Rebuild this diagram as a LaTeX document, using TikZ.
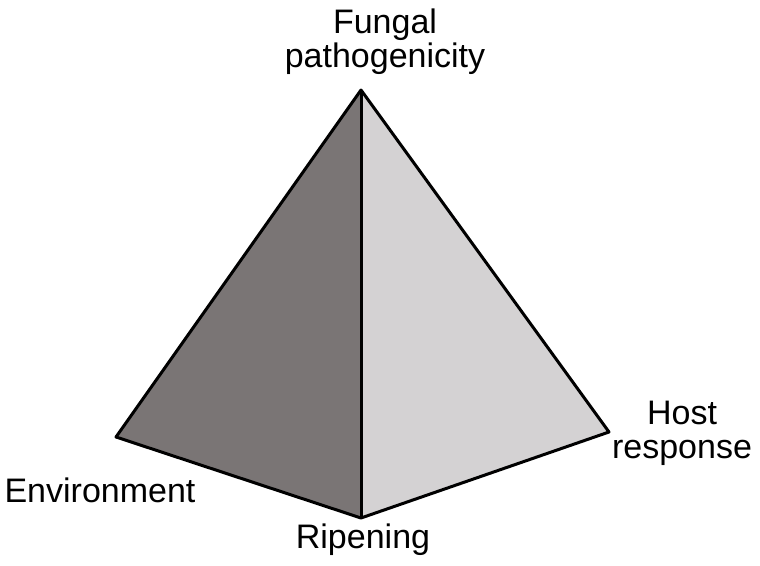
\documentclass[tikz,border=0pt]{standalone}
\usepackage{fontspec}
\setmainfont{Liberation Sans}
\definecolor{darkface}{RGB}{122,117,117}
\definecolor{lightface}{RGB}{212,210,211}
\tikzset{lbl/.style={align=center, font=\fontsize{34}{36}\selectfont, inner sep=0pt}}
\begin{document}
\begin{tikzpicture}[x=1pt,y=-1pt]
    \useasboundingbox (0,0) rectangle (760,565);
    \coordinate (top) at (361,90);
    \coordinate (left) at (116,437);
    \coordinate (bottom) at (361,518);
    \coordinate (right) at (609,432);

    \fill[darkface] (top) -- (left) -- (bottom) -- cycle;
    \fill[lightface] (top) -- (right) -- (bottom) -- cycle;
    \draw[line width=3pt, line join=round] (top) -- (left) -- (bottom) -- (right) -- cycle;
    \draw[line width=3pt] (top) -- (bottom);

    \node[lbl] (fungal) at (385,42) {Fungal\\[-2pt]pathogenicity};
    \node[lbl] (host) at (682,433) {Host\\[-2pt]response};
    \node[lbl] (env) at (100,490) {Environment};
    \node[lbl] (ripen) at (363,540) {Ripening};
\end{tikzpicture}
\end{document}
